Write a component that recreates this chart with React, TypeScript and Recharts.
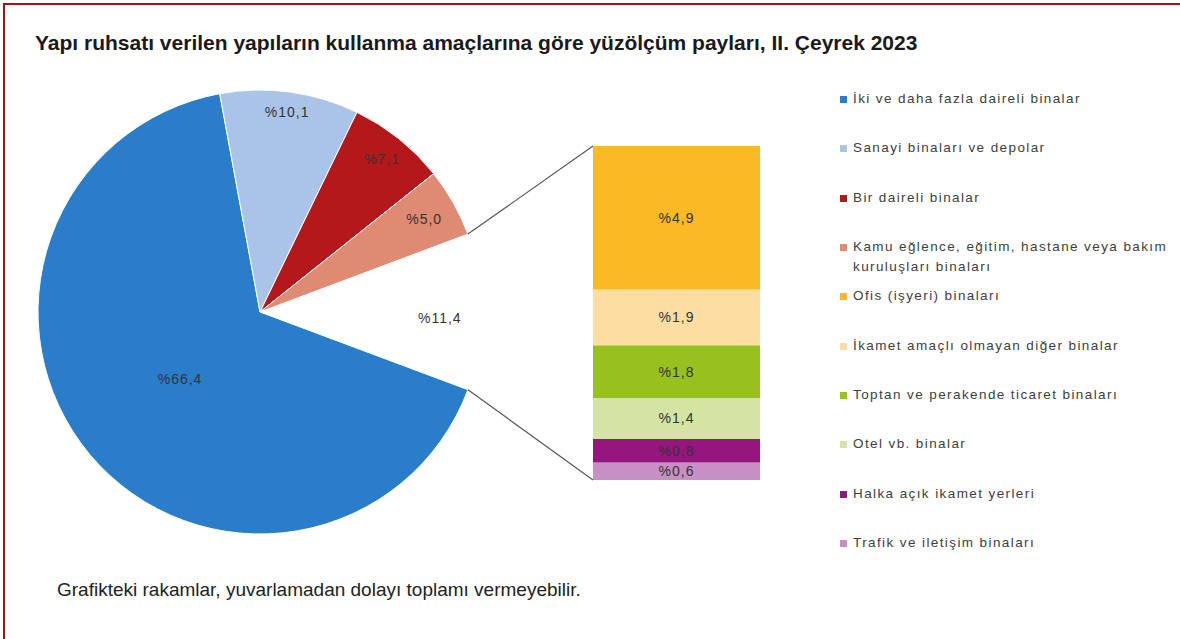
import React from 'react'
import { PieChart, Pie, Cell, BarChart, Bar, XAxis, YAxis, LabelList } from 'recharts'

// ana pasta dilimleri (son dilim: "diğer" toplamı, çubuğa açılıyor)
const pieNames = [
  'İki ve daha fazla daireli binalar',
  'Sanayi binaları ve depolar',
  'Bir daireli binalar',
  'Kamu eğlence, eğitim, hastane veya bakım kuruluşları binaları',
  'Diğer',
]
const pieValues = [66.4, 10.1, 7.1, 5.0, 11.4]
const pieColors = ['#2a7dc8', '#a9c4e7', '#b3191b', '#df8a72', 'none']

// çubuk kırılımı (üstten alta)
const barNames = [
  'Ofis (işyeri) binaları',
  'İkamet amaçlı olmayan diğer binalar',
  'Toptan ve perakende ticaret binaları',
  'Otel vb. binalar',
  'Halka açık ikamet yerleri',
  'Trafik ve iletişim binaları',
]
const barValues = [4.9, 1.9, 1.8, 1.4, 0.8, 0.6]
const barColors = ['#fbb925', '#fddda1', '#97c11f', '#d3e4a4', '#95177e', '#c88fc5']

const FONT = '"Liberation Sans", Arial, sans-serif'
const fmt = (v: number) => '%' + v.toFixed(1).replace('.', ',')

// yerleşim
const PIE_CX = 260
const PIE_CY = 312
const PIE_R = 222
const START = -20.5
const BAR_X = 593
const BAR_Y = 146
const BAR_W = 167
const BAR_H = 334
const labelRadius = [0.47, 0.91, 0.88, 0.85, 0.81]

const pieData = pieNames.map((name, i) => ({ name, value: pieValues[i] }))
const barRow: Record<string, number | string> = { name: 'Diğer' }
barValues.forEach((v, i) => {
  barRow['k' + i] = v
})
const barTotal = barValues.reduce((a, b) => a + b, 0)

const legendItems = [
  ...pieNames.slice(0, 4).map((n, i) => ({ name: n, color: pieColors[i] })),
  ...barNames.map((n, i) => ({ name: n, color: barColors[i] })),
]

const RAD = Math.PI / 180

function PieLabel(props: any) {
  const { cx, cy, outerRadius, midAngle, index, value, startAngle, endAngle } = props
  const r = outerRadius * labelRadius[index]
  const x = cx + r * Math.cos(-midAngle * RAD)
  const y = cy + r * Math.sin(-midAngle * RAD) + (index === pieValues.length - 1 ? 6 : 0)
  const text = (
    <text
      x={x}
      y={y}
      textAnchor="middle"
      dominantBaseline="central"
      fill="#333"
      fontSize={14}
      letterSpacing={1}
      fontFamily={FONT}
    >
      {fmt(value)}
    </text>
  )
  if (index !== pieValues.length - 1) return text
  // bağlantı çizgileri: diğer diliminin kenarlarından çubuğun köşelerine
  const a1 = startAngle * RAD
  const a2 = endAngle * RAD
  const p1 = { x: cx + outerRadius * Math.cos(-a1), y: cy + outerRadius * Math.sin(-a1) }
  const p2 = { x: cx + outerRadius * Math.cos(-a2), y: cy + outerRadius * Math.sin(-a2) }
  const top = p1.y < p2.y ? p1 : p2
  const bot = p1.y < p2.y ? p2 : p1
  return (
    <g>
      {text}
      <line x1={top.x} y1={top.y} x2={BAR_X} y2={BAR_Y} stroke="#555" strokeWidth={1.2} />
      <line x1={bot.x} y1={bot.y} x2={BAR_X} y2={BAR_Y + BAR_H} stroke="#555" strokeWidth={1.2} />
    </g>
  )
}

export default function App() {
  return (
    <div
      style={{
        position: 'absolute',
        left: 0,
        top: 0,
        width: 1180,
        height: 639,
        background: '#fff',
        fontFamily: FONT,
        overflow: 'hidden',
      }}
    >
      <div style={{ position: 'absolute', left: 3, top: 3, right: 0, height: 2, background: '#a80f12' }} />
      <div style={{ position: 'absolute', left: 3, top: 3, bottom: 0, width: 2, background: '#a80f12' }} />

      <div
        style={{
          position: 'absolute',
          left: 35,
          top: 31,
          fontSize: 21,
          fontWeight: 'bold',
          color: '#1a1a1a',
          whiteSpace: 'nowrap',
        }}
      >
        Yapı ruhsatı verilen yapıların kullanma amaçlarına göre yüzölçüm payları, II. Çeyrek 2023
      </div>

      <div style={{ position: 'absolute', left: BAR_X, top: BAR_Y }}>
        <BarChart width={BAR_W} height={BAR_H} data={[barRow]} margin={{ top: 0, right: 0, bottom: 0, left: 0 }} barCategoryGap={0}>
          <XAxis dataKey="name" hide />
          <YAxis hide domain={[0, barTotal]} />
          {barValues
            .map((_, i) => i)
            .reverse()
            .map((i) => (
              <Bar key={i} dataKey={'k' + i} stackId="a" fill={barColors[i]} isAnimationActive={false}>
                <LabelList
                  dataKey={'k' + i}
                  position="center"
                  formatter={(v: any) => fmt(Number(v))}
                  fill="#333"
                  fontSize={14}
                  letterSpacing={1}
                  fontFamily={FONT}
                />
              </Bar>
            ))}
        </BarChart>
      </div>

      <div style={{ position: 'absolute', left: 0, top: 0 }}>
        <PieChart width={800} height={639} margin={{ top: 0, right: 0, bottom: 0, left: 0 }}>
          <Pie
            data={pieData}
            dataKey="value"
            nameKey="name"
            cx={PIE_CX}
            cy={PIE_CY}
            outerRadius={PIE_R}
            startAngle={START}
            endAngle={START - 360}
            stroke="#fff"
            strokeWidth={1}
            label={PieLabel}
            labelLine={false}
            isAnimationActive={false}
          >
            {pieData.map((_, i) => (
              <Cell key={i} fill={pieColors[i]} stroke={pieColors[i] === 'none' ? 'none' : '#fff'} />
            ))}
          </Pie>
        </PieChart>
      </div>

      {legendItems.map((it, i) => (
        <div
          key={i}
          style={{
            position: 'absolute',
            left: 840,
            top: 99 + i * 49.33 - 10,
            width: 345,
            display: 'flex',
            alignItems: 'flex-start',
            fontSize: 13.5,
            letterSpacing: 1.4,
            lineHeight: '20px',
            color: '#404040',
          }}
        >
          <span
            style={{
              display: 'inline-block',
              width: 7,
              height: 7,
              background: it.color,
              marginTop: 7,
              marginRight: 6,
              flex: 'none',
            }}
          />
          <span style={{ width: 328 }}>{it.name}</span>
        </div>
      ))}

      <div
        style={{
          position: 'absolute',
          left: 57,
          top: 579,
          fontSize: 19,
          color: '#222',
          whiteSpace: 'nowrap',
        }}
      >
        Grafikteki rakamlar, yuvarlamadan dolayı toplamı vermeyebilir.
      </div>
    </div>
  )
}
